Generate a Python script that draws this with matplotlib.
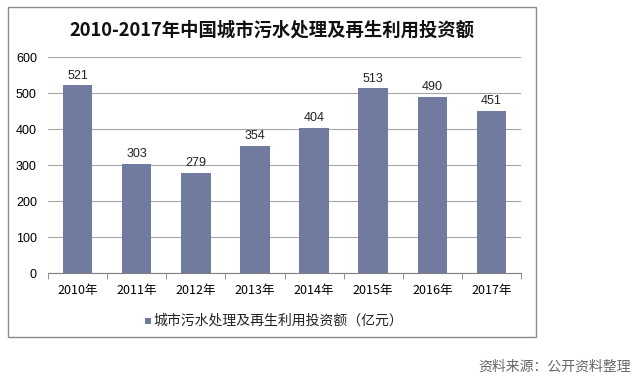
import matplotlib
matplotlib.use("Agg")
import matplotlib.pyplot as plt
from matplotlib.patches import Rectangle
import numpy as np

plt.rcParams['font.family'] = ['Noto Sans CJK SC', 'DejaVu Sans']

years = ["2010年", "2011年", "2012年", "2013年", "2014年", "2015年", "2016年", "2017年"]
values = [521, 303, 279, 354, 404, 513, 490, 451]
series_name = "城市污水处理及再生利用投资额（亿元）"
title = "2010-2017年中国城市污水处理及再生利用投资额"
source = "资料来源：公开资料整理"

W, H = 644, 388
fig = plt.figure(figsize=(W/100, H/100), dpi=100)
fig.patch.set_facecolor("white")

# outer chart frame
fig.patches.append(Rectangle((8/W, 1-337/H), (536-8)/W, (337-7)/H, transform=fig.transFigure,
                             fill=False, edgecolor="#8c8c8c", linewidth=1.0))

ax = fig.add_axes([48/W, 1-273/H, (521-48)/W, (273-57)/H])
x = np.arange(len(years))
color = "#717BA0"
ax.bar(x, values, width=0.5, color=color, zorder=3)
for xi, v in zip(x, values):
    ax.text(xi, v + 10, str(v), ha="center", va="bottom", fontsize=9, color="#222222",
            family=["Liberation Sans", "DejaVu Sans"])

ax.set_xlim(-0.5, len(years) - 0.5)
ax.set_ylim(0, 600)
ax.set_yticks(range(0, 601, 100))
ax.set_yticklabels([str(v) for v in range(0, 601, 100)], family=["Liberation Sans", "DejaVu Sans"], fontsize=9)
ax.yaxis.grid(True, color="#a6a6a6", linewidth=0.8, zorder=0)
ax.tick_params(axis="y", length=0, pad=8)

ax.set_xticks(x)
ax.set_xticklabels(years, fontsize=9)
ax.set_xticks(np.arange(-0.5, len(years)), minor=True)
ax.tick_params(axis="x", which="major", length=0, pad=8)
ax.tick_params(axis="x", which="minor", length=4, color="#808080", direction="out")
for s in ["top", "right", "left"]:
    ax.spines[s].set_visible(False)
ax.spines["bottom"].set_color("#808080")

fig.text(272/W, 1-30/H, title, ha="center", va="center", fontsize=13.2, fontweight="bold", color="#111111")

# legend
fig.patches.append(Rectangle((145/W, 1-324/H), 6/W, 6/H, transform=fig.transFigure,
                             facecolor=color, edgecolor="none"))
fig.text(153/W, 1-321/H, series_name, ha="left", va="center", fontsize=10, color="#222222")

fig.text(631/W, 1-367/H, source, ha="right", va="center", fontsize=10, color="#666666")

fig.savefig("out.png", dpi=100)
